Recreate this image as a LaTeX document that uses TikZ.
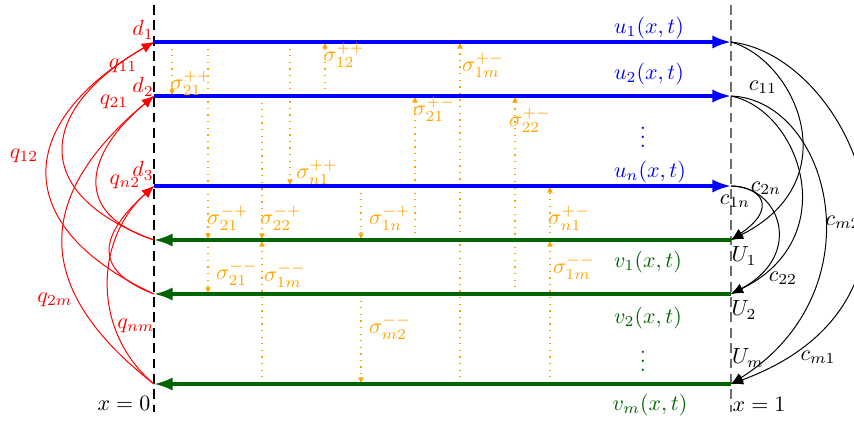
\documentclass[tikz,border=0pt]{standalone}
\usetikzlibrary{arrows.meta}
\definecolor{myblue}{RGB}{0,0,255}
\definecolor{mygreen}{RGB}{0,100,0}
\definecolor{myorange}{RGB}{255,165,0}
\definecolor{mygray}{RGB}{110,110,110}
\begin{document}
\begin{tikzpicture}[x=0.016cm,y=-0.016cm,
  uline/.style={myblue, line width=1.4pt, -{Latex[length=8.5pt,width=6pt]}},
  vline/.style={mygreen, line width=1.4pt, -{Latex[length=8.5pt,width=6pt]}},
  qarc/.style={red, line width=0.45pt, -{Latex[length=5.5pt,width=4.5pt]}},
  carc/.style={black, line width=0.45pt, -{Latex[length=5.5pt,width=4.5pt]}},
  sig/.style={myorange, dash pattern=on 0.6pt off 2.4pt, line width=0.5pt, -{Latex[length=3pt,width=2.6pt]}},
  slab/.style={text=myorange, inner sep=0pt},
  lab/.style={inner sep=0pt},
  bordline/.style={dash pattern=on 4.5pt off 2.5pt, line width=0.5pt}]
\useasboundingbox (0,0) rectangle (854,420);
% named end points
\coordinate (u1L) at (154,42);  \coordinate (u1R) at (731,42);
\coordinate (u2L) at (154,96);  \coordinate (u2R) at (731,96);
\coordinate (u3L) at (154,186); \coordinate (u3R) at (731,186);
\coordinate (v1L) at (154,240); \coordinate (v1R) at (731,240);
\coordinate (v2L) at (154,294); \coordinate (v2R) at (731,294);
\coordinate (v3L) at (154,384); \coordinate (v3R) at (731,384);
\coordinate (x0t) at (154,5);   \coordinate (x0b) at (154,412);
\coordinate (x1t) at (731,5);   \coordinate (x1b) at (731,412);
% boundaries
\draw[bordline, black] (x0t) -- (x0b);
\draw[bordline, mygray] (x1t) -- (x1b);
% orange couplings
\foreach \i/\x/\ya/\yb in {1/172/42/96, 2/208/42/240, 3/208/240/294, 4/262/96/240,
  5/262/384/240, 6/290/42/186, 7/325/96/42, 8/361/186/240, 9/361/294/384,
  10/415/240/96, 11/460/384/42, 12/515/294/96, 13/550/240/186, 14/550/384/240}{
  \coordinate (sa\i) at (\x,\ya); \coordinate (sb\i) at (\x,\yb);
  \draw[sig] (sa\i) -- (sb\i);
}
% main lines
\draw[uline] (u1L) -- (u1R);
\draw[uline] (u2L) -- (u2R);
\draw[uline] (u3L) -- (u3R);
\draw[vline] (v1R) -- (v1L);
\draw[vline] (v2R) -- (v2L);
\draw[vline] (v3R) -- (v3L);
% left boundary arcs
\draw[qarc] (v1L) .. controls (28,194) and (38,109) .. (u1L);
\draw[qarc] (v2L) .. controls (8,226) and (15,122) .. (u1L);
\draw[qarc] (v1L) .. controls (70,213) and (86,153) .. (u2L);
\draw[qarc] (v3L) .. controls (31,288) and (34,196) .. (u2L);
\draw[qarc] (v2L) .. controls (89,269) and (102,233) .. (u3L);
\draw[qarc] (v3L) .. controls (92,332) and (94,240) .. (u3L);
% right boundary arcs
\draw[carc] (u1R) .. controls (795,60) and (850,180) .. (v1R);
\draw[carc] (u1R) .. controls (850,55) and (960,300) .. (v3R);
\draw[carc] (u2R) .. controls (830,100) and (880,290) .. (v3R);
\draw[carc] (u2R) .. controls (800,110) and (845,238) .. (v2R);
\draw[carc] (u3R) .. controls (780,186) and (805,255) .. (v2R);
\draw[carc] (u3R) .. controls (762,187) and (778,208) .. (v1R);
% red labels
\node[lab, text=red] (d1) at (143,30) {$d_1$};
\node[lab, text=red] (d2) at (143,87) {$d_2$};
\node[lab, text=red] (d3) at (143,171) {$d_3$};
\node[lab, text=red] (q11) at (123,66) {$q_{11}$};
\node[lab, text=red] (q21) at (114,102) {$q_{21}$};
\node[lab, text=red] (q12) at (24,156) {$q_{12}$};
\node[lab, text=red] (qn2) at (125,182) {$q_{n2}$};
\node[lab, text=red] (q2m) at (55,300) {$q_{2m}$};
\node[lab, text=red] (qnm) at (136,326) {$q_{nm}$};
% black labels
\node[lab] (x0) at (124,403) {$x=0$};
\node[lab] (x1) at (759,404) {$x=1$};
\node[lab] (U1) at (744,256) {$U_1$};
\node[lab] (U2) at (744,310) {$U_2$};
\node[lab] (Um) at (748,358) {$U_m$};
\node[lab] (c11) at (763,87) {$c_{11}$};
\node[lab] (c2n) at (766,188) {$c_{2n}$};
\node[lab] (c1n) at (735,201) {$c_{1n}$};
\node[lab] (c22) at (783,278) {$c_{22}$};
\node[lab] (cm2) at (843,222) {$c_{m2}$};
\node[lab] (cm1) at (818,357) {$c_{m1}$};
% function labels
\node[lab, text=myblue] (lu1) at (649,28) {$u_1(x,t)$};
\node[lab, text=myblue] (lu2) at (649,74) {$u_2(x,t)$};
\node[lab, text=myblue] (ldu) at (643,131) {$\vdots$};
\node[lab, text=myblue] (lu3) at (650,172) {$u_n(x,t)$};
\node[lab, text=mygreen] (lv1) at (648,262) {$v_1(x,t)$};
\node[lab, text=mygreen] (lv2) at (648,318) {$v_2(x,t)$};
\node[lab, text=mygreen] (ldv) at (643,355) {$\vdots$};
\node[lab, text=mygreen] (lv3) at (650,405) {$v_m(x,t)$};
% orange labels
\node[slab] (s1) at (191,83) {$\sigma^{++}_{21}$};
\node[slab] (s2) at (344,55) {$\sigma^{++}_{12}$};
\node[slab] (s3) at (483,65) {$\sigma^{+-}_{1m}$};
\node[slab] (s4) at (434,109) {$\sigma^{+-}_{21}$};
\node[slab] (s5) at (317,172) {$\sigma^{++}_{n1}$};
\node[slab] (s6) at (530,120) {$\sigma^{+-}_{22}$};
\node[slab] (s7) at (228,218) {$\sigma^{-+}_{21}$};
\node[slab] (s8) at (281,218) {$\sigma^{-+}_{22}$};
\node[slab] (s9) at (390,218) {$\sigma^{-+}_{1n}$};
\node[slab] (s10) at (569,218) {$\sigma^{+-}_{n1}$};
\node[slab] (s11) at (237,273) {$\sigma^{--}_{21}$};
\node[slab] (s12) at (285,275) {$\sigma^{--}_{1m}$};
\node[slab] (s13) at (574,267) {$\sigma^{--}_{1m}$};
\node[slab] (s14) at (390,327) {$\sigma^{--}_{m2}$};
\end{tikzpicture}
\end{document}
